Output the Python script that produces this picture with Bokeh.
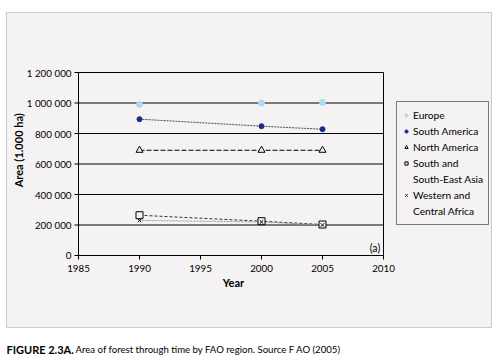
import math
from bokeh.plotting import figure
from bokeh.models import Range1d, BoxAnnotation, Label, Legend, LegendItem
from bokeh.core.properties import value
from bokeh.embed import file_html
from bokeh.resources import INLINE

# ---- data ----
years = [1990, 2000, 2005]
europe = [990000, 1000000, 1004000]
south_america = [894000, 848000, 828000]
north_america = [690000, 690000, 690000]
se_asia = [264000, 225000, 203000]
w_c_africa = [230000, 220000, 200000]

y_ticks = [0, 200000, 400000, 600000, 800000, 1000000, 1200000]
y_tick_labels = ["0", "200 000", "400 000", "600 000", "800 000", "1 000 000", "1 200 000"]
x_ticks = [1985, 1990, 1995, 2000, 2005, 2010]
x_tick_labels = [str(t) for t in x_ticks]

# ---- layout constants (pixels) ----
W, H = 500, 360
PLOT_L, PLOT_R, PLOT_T, PLOT_B = 78, 383, 72, 255
X0, X1 = x_ticks[0], x_ticks[-1]
Y0, Y1 = y_ticks[0], y_ticks[-1]
px_x = (PLOT_R - PLOT_L) / (X1 - X0)
px_y = (PLOT_B - PLOT_T) / (Y1 - Y0)
x_range = Range1d(X0 - PLOT_L / px_x, X1 + (W - PLOT_R) / px_x)
y_range = Range1d(Y0 - (H - PLOT_B) / px_y, Y1 + PLOT_T / px_y)

FONT = "Lato"
BG = "#f4f2f2"

p = figure(width=W, height=H, output_backend="svg", toolbar_location=None,
           x_range=x_range, y_range=y_range, x_axis_type=None, y_axis_type=None,
           min_border=0)
p.outline_line_color = None
p.grid.visible = False
p.background_fill_color = "white"
p.border_fill_color = "white"

# grey panel
p.add_layout(BoxAnnotation(left=6, right=491, bottom=H - 327, top=H - 12,
                           left_units="screen", right_units="screen",
                           bottom_units="screen", top_units="screen",
                           fill_color=BG, fill_alpha=1, line_color="#5c5c5c",
                           line_width=1, level="underlay"))

# horizontal grid lines and plot-area frame
grid_y = y_ticks[1:]
p.segment(x0=[X0] * len(grid_y), x1=[X1] * len(grid_y), y0=grid_y, y1=grid_y,
          line_color="black", line_width=1)
p.segment(x0=[X1], x1=[X1], y0=[Y0], y1=[Y1], line_color="black", line_width=1)
# axis lines
p.segment(x0=[X0], x1=[X0], y0=[Y0], y1=[Y1], line_color="black", line_width=1)
p.segment(x0=[X0], x1=[X1], y0=[Y0], y1=[Y0], line_color="black", line_width=1)
# tick marks
p.ray(x=[X0] * len(y_ticks), y=y_ticks, length=4, length_units="screen",
      angle=math.pi, line_color="black", line_width=1)
p.ray(x=x_ticks, y=[Y0] * len(x_ticks), length=4, length_units="screen",
      angle=-math.pi / 2, line_color="black", line_width=1)
# tick labels
p.text(x=[X0] * len(y_ticks), y=y_ticks, text=y_tick_labels, x_offset=-7,
       text_align="right", text_baseline="middle", text_font=value(FONT),
       text_font_size="9.8px", text_color="black")
p.text(x=x_ticks, y=[Y0] * len(x_ticks), text=x_tick_labels, y_offset=13,
       text_align="center", text_baseline="middle", text_font=value(FONT),
       text_font_size="9.8px", text_color="black")
# axis titles
p.text(x=[1997.7], y=[Y0], text=["Year"], y_offset=27, text_align="center",
       text_baseline="middle", text_font=value(FONT), text_font_size="11px",
       text_font_style="bold", text_color="black")
p.text(x=[X0], y=[690000], text=["Area (1.000 ha)"], x_offset=-60, angle=math.pi / 2,
       text_align="center", text_baseline="middle", text_font=value(FONT),
       text_font_size="11px", text_font_style="bold", text_color="black")

# series lines
p.line(years, south_america, line_color="#4a4a5a", line_dash="2 1", line_width=1)
p.line(years, north_america, line_color="black", line_dash="5 2", line_width=1)
p.line(years, se_asia, line_color="#333333", line_dash="3 2", line_width=1)
p.line(years, w_c_africa, line_color="#999999", line_dash="2 1", line_width=1)

# markers
r_eu = p.scatter(years, europe, marker="circle", size=6, fill_color="#a9dcf3", line_color="#a9dcf3")
r_sa = p.scatter(years, south_america, marker="circle", size=5, fill_color="#1c2a86", line_color="#1c2a86")
r_na = p.scatter(years, north_america, marker="triangle", size=7, fill_color=BG, line_color="black")
r_se = p.scatter(years, se_asia, marker="square", size=7, fill_color=BG, line_color="black")
r_wa = p.scatter(years, w_c_africa, marker="x", size=5, line_color="black")
r_blank = p.scatter(x=[], y=[], marker="circle", size=0, fill_alpha=0, line_alpha=0)

legend = Legend(items=[
    LegendItem(label="Europe", renderers=[r_eu]),
    LegendItem(label="South America", renderers=[r_sa]),
    LegendItem(label="North America", renderers=[r_na]),
    LegendItem(label="South and", renderers=[r_se]),
    LegendItem(label="South-East Asia", renderers=[r_blank]),
    LegendItem(label="Western and", renderers=[r_wa]),
    LegendItem(label="Central Africa", renderers=[r_blank]),
], location=(396, H - 225))
legend.label_text_font = FONT
legend.label_text_font_size = "10.2px"
legend.label_text_color = "black"
legend.glyph_width = 8
legend.glyph_height = 16
legend.label_height = 16
legend.label_standoff = 3
legend.spacing = 0
legend.padding = 5
legend.margin = 0
legend.border_line_color = "black"
legend.background_fill_color = BG
legend.background_fill_alpha = 1
p.add_layout(legend)

p.text(x=[2009.3], y=[52000], text=["(a)"], text_align="center", text_baseline="middle",
       text_font=value(FONT), text_font_size="10.5px", text_color="black")

# caption
p.add_layout(Label(x=6, y=H - 349, x_units="screen", y_units="screen", text="FIGURE 2.3A.",
                   text_font=FONT, text_font_size="11px", text_font_style="bold",
                   text_baseline="middle", text_color="black"))
p.add_layout(Label(x=75, y=H - 349, x_units="screen", y_units="screen",
                   text="Area of forest through time by FAO region. Source F AO (2005)",
                   text_font=FONT, text_font_size="9.6px", text_baseline="middle",
                   text_color="black"))

open("out.html", "w").write(file_html(p, INLINE))
